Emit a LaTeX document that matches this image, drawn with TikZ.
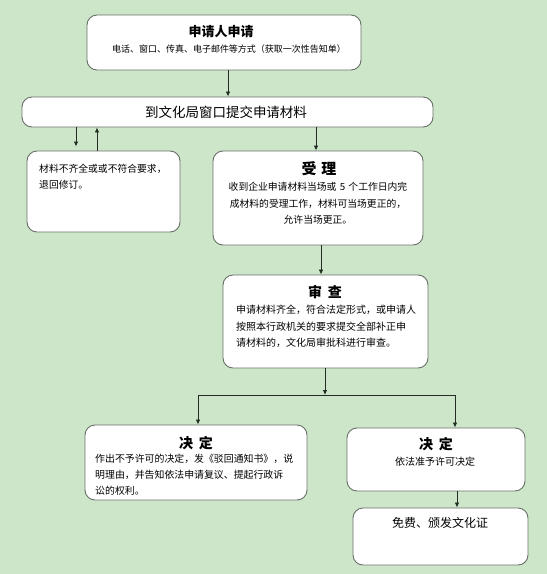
\documentclass[tikz,border=0pt]{standalone}
\usepackage{fontspec}
\setmainfont{Noto Sans CJK SC}
\usetikzlibrary{arrows.meta}
\definecolor{bggreen}{RGB}{205,230,201}
\definecolor{boxline}{RGB}{105,112,105}
\definecolor{arrowline}{RGB}{35,45,35}
\tikzset{
  box/.style={draw=boxline, line width=0.9pt, rounded corners=10pt, fill=white, inner sep=0pt},
  arr/.style={draw=arrowline, line width=0.8pt, -{Latex[length=5pt,width=4.5pt]}},
  link/.style={draw=arrowline, line width=0.8pt},
  title/.style={font=\fontsize{14}{16}\selectfont\bfseries, inner sep=0pt},
  body/.style={font=\fontsize{9.8}{16.5}\selectfont, inner sep=0pt},
}

\begin{document}
\begin{tikzpicture}[x=1pt, y=-1pt]
  % background
  \fill[bggreen] (0,0) rectangle (547,574);
  % boxes
  \node[box, minimum width=274pt, minimum height=55pt] (apply) at (224,42.5) {};
  \node[box, minimum width=411pt, minimum height=30pt] (submit) at (227.5,112) {};
  \node[box, minimum width=153pt, minimum height=81pt] (reject) at (103.5,191.5) {};
  \node[box, minimum width=210pt, minimum height=94pt] (accept) at (318,198) {};
  \node[box, minimum width=205pt, minimum height=93pt] (review) at (325.5,321.5) {};
  \node[box, minimum width=222pt, minimum height=75pt] (deny) at (196,462.5) {};
  \node[box, minimum width=178pt, minimum height=63pt] (grant) at (436,459.5) {};
  \node[box, minimum width=175pt, minimum height=57pt] (issue) at (440.5,536.5) {};
  % texts
  \node[title, font=\fontsize{13}{15}\selectfont\bfseries] (applyTitle) at (221,31.5) {申请人申请};
  \node[body, font=\fontsize{9}{11}\selectfont] (applyNote) at (229,49) {电话、窗口、传真、电子邮件等方式（获取一次性告知单）};
  \node[body, font=\fontsize{13.5}{15}\selectfont] (submitText) at (226,112) {到文化局窗口提交申请材料};
  \node[body, anchor=west, text width=140pt, align=left] (rejectText) at (39,176.5) {材料不齐全或或不符合要求，\\退回修订。};
  \node[title, font=\fontsize{15}{17}\selectfont\bfseries] (acceptTitle) at (319,169) {受\hspace{5pt}理};
  \node[body, text width=192pt, align=center] (acceptBody) at (318,203.5) {收到企业申请材料当场或 5 个工作日内完\\成材料的受理工作，材料可当场更正的，\\允许当场更正。};
  \node[title] (reviewTitle) at (325,292) {审\hspace{6pt}查};
  \node[body, anchor=west, text width=190pt, align=left, font=\fontsize{10}{16.5}\selectfont] (reviewBody) at (236,326.5) {申请材料齐全，符合法定形式，或申请人\\按照本行政机关的要求提交全部补正申\\请材料的，文化局审批科进行审查。};
  \node[title] (denyTitle) at (196,443) {决\hspace{6pt}定};
  \node[body, anchor=west, text width=205pt, align=left, font=\fontsize{9.9}{16}\selectfont] (denyBody) at (95,475) {作出不予许可的决定，发《驳回通知书》，说\\明理由，并告知依法申请复议、提起行政诉\\讼的权利。};
  \node[title] (grantTitle) at (436,444) {决\hspace{6pt}定};
  \node[body, font=\fontsize{10}{12}\selectfont] (grantBody) at (435,462) {依法准予许可决定};
  \node[body, font=\fontsize{12}{14}\selectfont] (issueText) at (440,523) {免费、颁发文化证};
  % connector columns
  \coordinate (colApply) at (228,0);
  \coordinate (colDown) at (76,0);
  \coordinate (colBack) at (97,0);
  \coordinate (colAccept) at (316,0);
  \coordinate (colReview) at (321,0);
  \coordinate (colGrant) at (457,0);
  \coordinate (split) at (325,395);
  \coordinate (splitL) at (198,395);
  \coordinate (splitR) at (455,395);
  % connectors
  \draw[arr] (apply.south -| colApply) -- (submit.north -| colApply);
  \draw[arr] (submit.south -| colDown) -- ([yshift=4pt]reject.north -| colDown);
  \draw[arr] (reject.north -| colBack) -- (submit.south -| colBack);
  \draw[arr] (submit.south -| colAccept) -- (accept.north -| colAccept);
  \draw[arr] (accept.south -| colReview) -- (review.north -| colReview);
  \draw[arr] (review.south -| split) -- (split);
  \draw[link] (splitL) -- (splitR);
  \draw[arr] (splitL) -- (deny.north -| splitL);
  \draw[arr] (splitR) -- (grant.north -| splitR);
  \draw[arr] (grant.south -| colGrant) -- (issue.north -| colGrant);
\end{tikzpicture}
\end{document}
